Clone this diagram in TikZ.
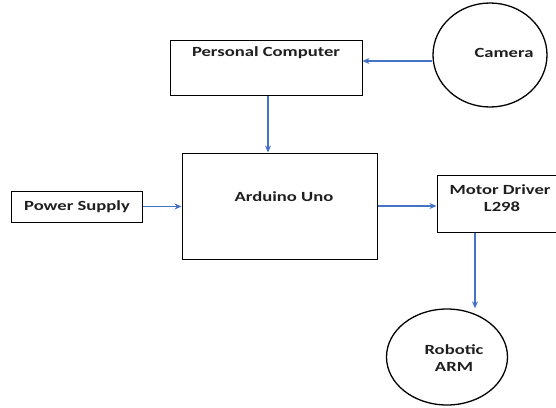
\documentclass[tikz,border=0pt]{standalone}
\usepackage{fontspec}
\usepackage{graphicx}
\setmainfont{Carlito}
\usetikzlibrary{shapes.geometric,arrows.meta}
\definecolor{arrowblue}{RGB}{68,114,196}
\newcommand{\wide}[1]{\scalebox{1.33}[1]{#1}}
\tikzset{
  blockbox/.style={draw=black, line width=1pt, fill=white, inner sep=0pt},
  roundbox/.style={draw=black, line width=1.3pt, ellipse, inner sep=0pt},
  lbl/.style={font=\fontsize{14}{17}\selectfont\bfseries, text=black!88},
  conn/.style={draw=arrowblue, line width=1.2pt, -{Stealth[length=7pt,width=6pt]}}
}
\begin{document}
\begin{tikzpicture}[x=1pt,y=-1pt]
\useasboundingbox (0,0) rectangle (556,407);
\node[blockbox, minimum width=192pt, minimum height=55pt] (pc) at (266,68) {};
\node[lbl] (pct) at (266,53) {\wide{Personal Computer}};
\node[roundbox, minimum width=114pt, minimum height=104pt] (cam) at (490,55) {};
\node[lbl] (camt) at (504,53) {\wide{Camera}};
\node[blockbox, minimum width=195pt, minimum height=106pt] (ard) at (279.5,206) {};
\node[lbl] (ardt) at (284,197) {\wide{Arduino Uno}};
\node[blockbox, minimum width=131pt, minimum height=31pt] (ps) at (76.5,206.5) {};
\node[lbl] (pst) at (77,207) {\wide{Power Supply}};
\node[blockbox, minimum width=126pt, minimum height=57pt] (md) at (500,203.5) {};
\node[lbl] (mdt1) at (500,190) {\wide{Motor Driver}};
\node[lbl] (mdt2) at (502,207) {\wide{L298}};
\node[roundbox, minimum width=121pt, minimum height=96pt] (arm) at (447,357) {};
\node[lbl] (armt1) at (454,350) {\wide{Robotic}};
\node[lbl] (armt2) at (454,367) {\wide{ARM}};
\draw[conn] (cam.west |- 0,61) -- (pc.east |- 0,61);
\draw[conn] (pc.south -| 268,0) -- (ard.north -| 268,0);
\draw[conn] (ps.east) -- (ard.west |- ps.east);
\draw[conn] (ard.east |- 0,206) -- (md.west |- 0,206);
\draw[conn] (md.south -| 475,0) -- (arm.north -| 475,0);
\end{tikzpicture}
\end{document}
